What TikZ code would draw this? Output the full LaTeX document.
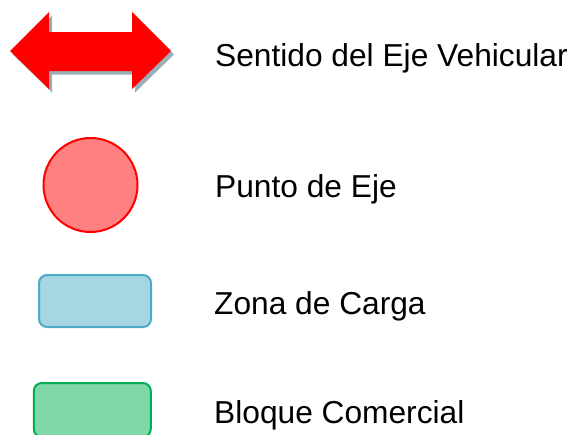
\documentclass[tikz,border=0pt]{standalone}
\usepackage{fontspec}
\setmainfont{Liberation Sans}
\usetikzlibrary{positioning}
\definecolor{rojo}{RGB}{255,0,0}
\definecolor{rosa}{RGB}{255,128,128}
\definecolor{sombra}{RGB}{154,174,184}
\definecolor{celeste}{RGB}{166,213,227}
\definecolor{celesteborde}{RGB}{75,172,198}
\definecolor{verde}{RGB}{128,216,168}
\definecolor{verdeborde}{RGB}{0,176,80}
\tikzset{
  leyenda/.style={font=\fontsize{31.7}{36}\selectfont,anchor=base west,inner sep=0pt},
  punto/.style={circle,draw=rojo,fill=rosa,line width=2pt,minimum size=94pt,inner sep=0pt},
  bloque/.style={draw=#1borde,fill=#1,line width=2pt,rounded corners=8pt,inner sep=0pt},
  bloque/.default=celeste,
}
\begin{document}
\begin{tikzpicture}[x=1pt,y=-1pt]
  \useasboundingbox (0,0) rectangle (575,434);
  % flecha doble con sombra
  \fill[sombra,shift={(3,3.5)}] (10,51) -- (49,12) -- (49,32) -- (132,32) -- (132,12) -- (171,51)
    -- (132,89) -- (132,71) -- (49,71) -- (49,89) -- cycle;
  \fill[rojo] (10,51) -- (49,12) -- (49,32) -- (132,32) -- (132,12) -- (171,51)
    -- (132,89) -- (132,71) -- (49,71) -- (49,89) -- cycle;
  \coordinate (flecha) at (90.5,51);
  \node[punto] (punto) at (90.5,185) {};
  \node[bloque,minimum width=112pt,minimum height=52pt] (zona) at (95,301) {};
  \node[bloque=verde,minimum width=117pt,minimum height=54pt] (comercial) at (92.3,410) {};
  % textos
  \node[leyenda] (tflecha) at (215,66) {Sentido del Eje Vehicular};
  \node[leyenda] (tpunto) at (215,197) {Punto de Eje};
  \node[leyenda] (tzona) at (214,314) {Zona de Carga};
  \node[leyenda] (tcomercial) at (214,423) {Bloque Comercial};
\end{tikzpicture}
\end{document}
